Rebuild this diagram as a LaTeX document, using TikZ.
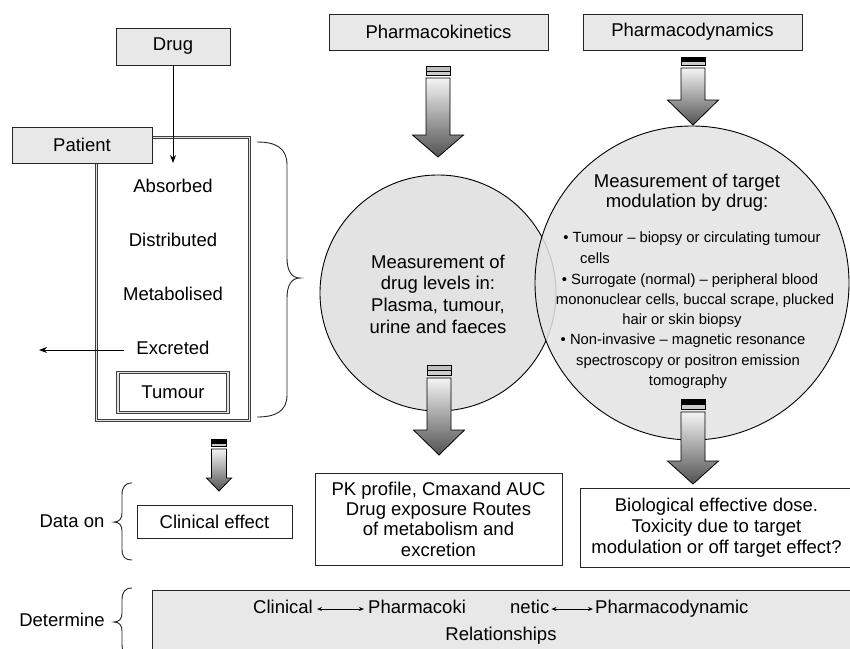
\documentclass[tikz,border=0pt]{standalone}
\usepackage{fontspec}
\setmainfont{Liberation Sans}
\usetikzlibrary{arrows.meta}
% block arrow: cx, y0 (bar top), y1 (shaft top), y2 (head top), y3 (tip), shaft half width, head half width, top bar colour
\newcommand\blkarrow[8]{%
  \filldraw[fill=#8, draw=black, line width=0.7pt] ({#1-#6},#2) rectangle ({#1+#6},{#2+0.42*(#3-#2)});
  \filldraw[fill=black!20, draw=black, line width=0.7pt] ({#1-#6},{#2+0.42*(#3-#2)}) rectangle ({#1+#6},{#2+0.78*(#3-#2)});
  \path[draw=black, line width=0.8pt, top color=black!4, bottom color=black!68, line join=miter]
    ({#1-#6},#3) -- ({#1+#6},#3) -- ({#1+#6},#4) -- ({#1+#7},#4) -- (#1,#5)
    -- ({#1-#7},#4) -- ({#1-#6},#4) -- cycle;
}
\begin{document}
\begin{tikzpicture}[x=1pt, y=-1pt,
  font=\fontsize{18.5}{21}\selectfont,
  gbox/.style={draw=black!85, line width=0.9pt, fill=black!9, inner sep=0pt, minimum height=36pt},
  wbox/.style={draw=black!85, line width=0.9pt, fill=white, inner sep=0pt, align=center},
  dbl/.style={draw=black!75, double=black!12, double distance=1.6pt, line width=0.8pt, inner sep=0pt},
  lbl/.style={inner sep=0pt, text height=13pt, text depth=4pt},
  small/.style={font=\fontsize{14.8}{16}\selectfont, inner sep=0pt, text height=10.5pt, text depth=3pt},
  arr/.style={-{Stealth[length=8pt,width=6pt]}, line width=0.9pt},
  darr/.style={{Stealth[length=5pt,width=4pt]}-{Stealth[length=5pt,width=4pt]}, line width=0.7pt},
  brc/.style={line width=0.9pt, draw=black!85},
  circ/.style={circle, draw=black, line width=0.9pt, fill=black!11, inner sep=0pt}
]
\path[use as bounding box, fill=white] (0,0) rectangle (850,648);
\clip (0,0) rectangle (850,648);

% ---------- circles ----------
\node[circ, minimum size=236pt] (lc) at (438,293) {};
\node[circ, minimum size=314pt, fill opacity=0.85] (rc) at (692,283) {};

\node[lbl, align=center, font=\fontsize{18.5}{21.7}\selectfont, text height=, text depth=] (lct) at (438,294)
  {Measurement of\\drug levels in:\\Plasma, tumour,\\urine and faeces};
\node[lbl, align=center, font=\fontsize{18.5}{20}\selectfont, text height=, text depth=] (rct) at (687,193)
  {Measurement of target\\modulation by drug:};

\node[small] (b1)  at (692,239) {• Tumour – biopsy or circulating tumour};
\node[small, anchor=west] (b1b) at (580,260) {cells};
\node[small] (b2)  at (690,281) {• Surrogate (normal) – peripheral blood};
\node[small] (b2b) at (695,301) {mononuclear cells, buccal scrape, plucked};
\node[small] (b2c) at (682,321) {hair or skin biopsy};
\node[small] (b3)  at (683,341) {• Non-invasive – magnetic resonance};
\node[small] (b3b) at (688,362) {spectroscopy or positron emission};
\node[small] (b3c) at (688,382) {tomography};

% ---------- top boxes ----------
\node[gbox, minimum width=219pt] (pk) at (438.5,32) {Pharmacokinetics};
\node[gbox, minimum width=219pt] (pd) at (692.5,32) {Pharmacodynamics};

% ---------- block arrows ----------
\blkarrow{438}{66}{78}{135}{157}{12}{25.5}{black!25}
\blkarrow{693}{57}{68}{100}{125}{12}{25.5}{black}
\blkarrow{439}{365}{378}{430}{455}{12}{25.5}{black!25}
\blkarrow{693}{399}{412}{461}{484}{12}{25.5}{black}
\blkarrow{219}{439}{449}{478}{491}{7.5}{12.5}{black}

% ---------- patient column ----------
\node[dbl, minimum width=153pt, minimum height=283pt] (body) at (173,279) {};
\node[gbox, minimum width=114pt, minimum height=37pt] (drug) at (173,46.5) {Drug};
\node[gbox, minimum width=140pt] (patient) at (82,145) {Patient};
\node[lbl] (abs) at (173,188) {Absorbed};
\node[lbl] (dis) at (173,242) {Distributed};
\node[lbl] (met) at (173,296) {Metabolised};
\node[lbl] (exc) at (173,350) {Excreted};
\node[dbl, fill=white, minimum width=110pt, minimum height=40pt] (tum) at (173,392.5) {Tumour};

\coordinate (dtip) at (173,163);
\draw[arr] (drug.south) -- (dtip);
\coordinate (exl) at (39,350);
\draw[arr] ([xshift=-12pt]exc.west) -- (exl);

\draw[brc] (257,142) .. controls (276,142) and (287,148) .. (287,165) -- (287,258)
  .. controls (287,270) and (291,278) .. (300,278)
  .. controls (291,278) and (287,286) .. (287,298) -- (287,395)
  .. controls (287,411) and (276,417) .. (257,417);

% ---------- bottom ----------
\node[lbl] (dataon) at (72,523) {Data on};
\draw[brc] (132,483) .. controls (125,483) and (122,487) .. (122,495) -- (122,513)
  .. controls (122,519) and (119,522) .. (114,522)
  .. controls (119,522) and (122,525) .. (122,531) -- (122,549)
  .. controls (122,557) and (125,560) .. (132,560);
\node[wbox, minimum width=155pt, minimum height=33pt] (clin) at (214.5,521.5) {Clinical effect};

\node[wbox, minimum width=247pt, minimum height=92pt, font=\fontsize{18.5}{20.3}\selectfont] (pkp) at (438.5,519)
  {PK profile, Cmaxand AUC\\Drug exposure Routes\\of metabolism and\\excretion};
\node[wbox, minimum width=273pt, minimum height=79pt, font=\fontsize{18.5}{21}\selectfont] (bed) at (716.5,527.5)
  {Biological effective dose.\\Toxicity due to target\\modulation or off target effect?};

\node[lbl] (det) at (62,622) {Determine};
\draw[brc] (132,588) .. controls (125,588) and (122,592) .. (122,600) -- (122,613)
  .. controls (122,619) and (119,622) .. (114,622)
  .. controls (119,622) and (122,625) .. (122,631) -- (122,644)
  .. controls (122,652) and (125,656) .. (132,656);
\node[gbox, minimum width=703pt, minimum height=75pt] (rel) at (503.5,627.5) {};
\node[lbl, anchor=west] (w1) at (253,609) {Clinical};
\node[lbl, anchor=west] (w2) at (368,609) {Pharmacoki};
\node[lbl, anchor=west] (w3) at (510,609) {netic};
\node[lbl, anchor=west] (w4) at (595,609) {Pharmacodynamic};
\draw[darr] ([xshift=4pt]w1.east) -- ([xshift=-4pt]w2.west);
\draw[darr] ([xshift=2pt]w3.east) -- ([xshift=-2pt]w4.west);
\node[lbl] (w5) at (501,636) {Relationships};
\end{tikzpicture}
\end{document}
